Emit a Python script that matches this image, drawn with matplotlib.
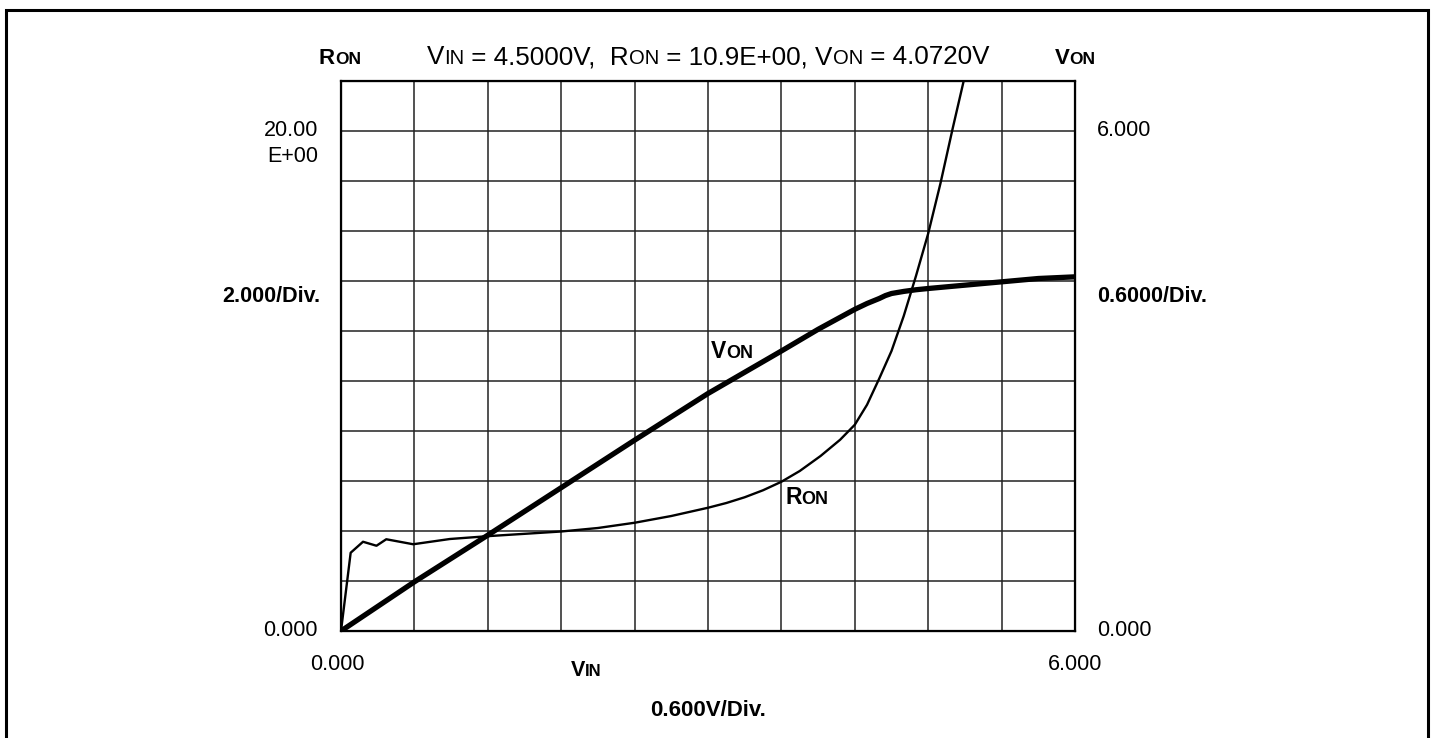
import numpy as np
import matplotlib
matplotlib.use('Agg')
from matplotlib import pyplot as plt
from matplotlib.offsetbox import TextArea, HPacker, AnnotationBbox
from matplotlib.patches import Rectangle

plt.rcParams['font.family'] = ['Liberation Sans', 'DejaVu Sans']

# V_IN -> V_ON (right axis, V)
vin_von = [0.0, 0.6, 1.2, 1.8, 2.4, 3.0, 3.6, 3.9, 4.1, 4.2, 4.3, 4.4, 4.45, 4.5, 4.6, 4.7,
           4.8, 5.1, 5.4, 5.7, 6.0]
von = [0.0, 0.59, 1.15, 1.72, 2.29, 2.85, 3.36, 3.62, 3.78, 3.86, 3.93, 3.99, 4.025, 4.05,
       4.075, 4.095, 4.11, 4.15, 4.19, 4.23, 4.25]

# V_IN -> R_ON (left axis)
vin_ron = [0.0, 0.079, 0.18, 0.29, 0.37, 0.59, 0.89, 1.22, 1.8, 2.1, 2.4, 2.7, 3.0, 3.15,
           3.3, 3.45, 3.6, 3.75, 3.92, 4.08, 4.2, 4.3, 4.4, 4.5, 4.6, 4.7, 4.8, 4.9, 5.0, 5.09]
ron = [0.0, 3.13, 3.57, 3.41, 3.67, 3.47, 3.68, 3.8, 3.98, 4.12, 4.33, 4.6, 4.93, 5.12,
       5.35, 5.63, 5.97, 6.4, 7.0, 7.65, 8.25, 9.05, 10.1, 11.2, 12.6, 14.2, 15.9, 17.9, 20.1, 22.0]

W, H = 1433, 738
fig = plt.figure(figsize=(W / 100, H / 100), dpi=100)

# plot area in pixels: x 341..1075, y 81..631
ax = fig.add_axes([341 / W, 1 - 631 / H, (1075 - 341) / W, (631 - 81) / H])
ax.set_xlim(0, 6)
ax.set_ylim(0, 22)
ax.set_xticks(np.arange(0, 6.01, 0.6))
ax.set_yticks(np.arange(0, 22.01, 2))
ax.tick_params(length=0, labelbottom=False, labelleft=False)
ax.grid(True, color='#222222', linewidth=1.1)
for s in ax.spines.values():
    s.set_linewidth(1.6)
    s.set_color('black')
ax.plot(vin_ron, ron, color='black', linewidth=1.7, solid_joinstyle='round', zorder=3)

ax2 = ax.twinx()
ax2.set_ylim(0, 6.6)
ax2.set_yticks([])
ax2.plot(vin_von, von, color='black', linewidth=3.8, solid_capstyle='round',
         solid_joinstyle='round', zorder=3)

# outer frame
fig.add_artist(Rectangle((6 / W, -0.05), (1428 - 6) / W, 1 - 10 / H + 0.05,
                         transform=fig.transFigure, fill=False, edgecolor='black',
                         linewidth=2.2))


def px(x, y):
    return (x, H - y)


def put(txt, x, y, size=15.5, weight='normal', ha='center', va='center'):
    fig.text(x / W, 1 - y / H, txt, fontsize=size, fontweight=weight, ha=ha, va=va)


def mixed(parts, x, y, weight='normal', align=(0.5, 0.5)):
    boxes = [TextArea(s, textprops=dict(fontsize=sz, fontweight=weight, color='black'))
             for s, sz in parts]
    pack = HPacker(children=boxes, align='baseline', pad=0, sep=0)
    ab = AnnotationBbox(pack, px(x, y), xycoords='figure pixels', frameon=False,
                        box_alignment=align, pad=0)
    ax2.add_artist(ab)


# title line
mixed([('V', 18.7), ('IN', 14.6), (' = 4.5000V,  R', 18.7), ('ON', 14.6),
       (' = 10.9E+00, V', 18.7), ('ON', 14.6), (' = 4.0720V', 18.7)], 708, 57)
mixed([('R', 16), ('ON', 12.5)], 340, 59, weight='bold')
mixed([('V', 16), ('ON', 12.5)], 1075, 59, weight='bold')

# left axis
put('20.00', 318, 131, ha='right')
put('E+00', 318, 156, ha='right')
put('0.000', 318, 631, ha='right')
put('2.000/Div.', 320, 297, size=15.5, weight='bold', ha='right')

# right axis
put('6.000', 1097, 131, ha='left')
put('0.000', 1097, 631, ha='left')
put('0.6000/Div.', 1097, 297, size=15.5, weight='bold', ha='left')

# bottom axis
put('0.000', 337, 664)
put('6.000', 1075, 664)
mixed([('V', 15.5), ('IN', 12)], 586, 670, weight='bold')
put('0.600V/Div.', 708, 710, size=16, weight='bold')

# curve labels
mixed([('V', 16.5), ('ON', 13)], 732, 352, weight='bold')
mixed([('R', 16.5), ('ON', 13)], 807, 498, weight='bold')

fig.savefig('out.png', dpi=100)
